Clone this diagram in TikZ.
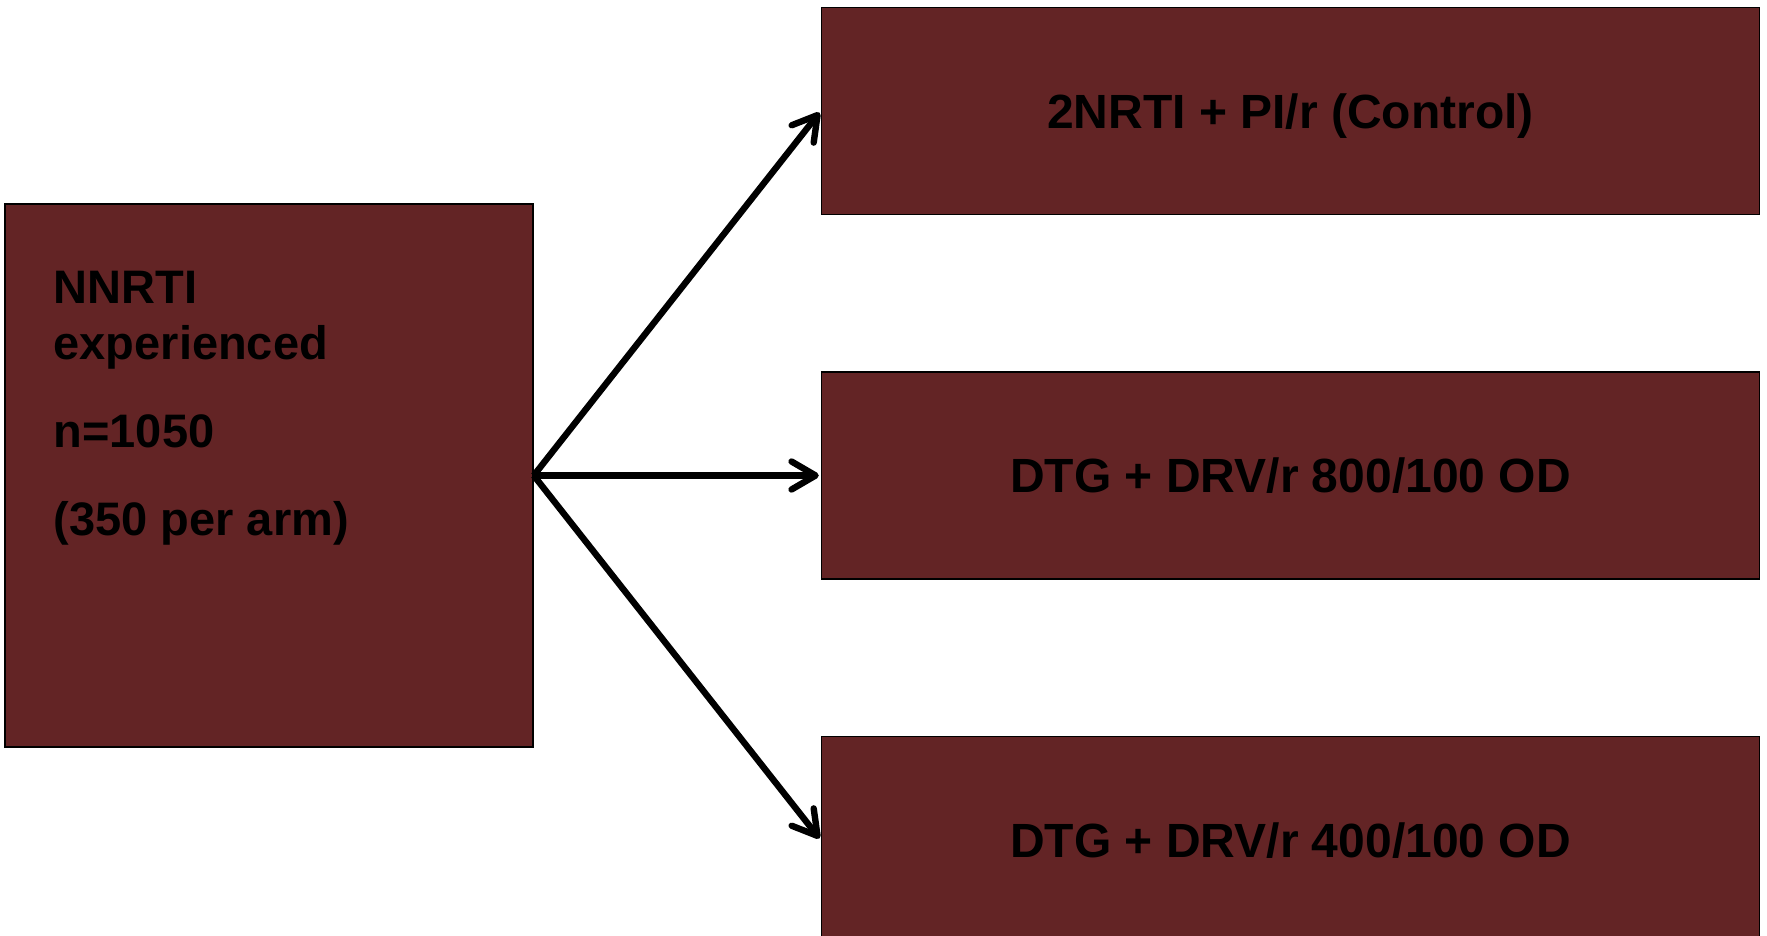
\documentclass[tikz,border=0pt]{standalone}
\usepackage{fontspec}
\setmainfont{Liberation Sans}
\usetikzlibrary{positioning, arrows.meta, calc}
\definecolor{primary}{RGB}{99, 36, 37}

\begin{document}
\begin{tikzpicture}[
                x=0.5pt, y=-0.5pt,
                box/.style={rectangle, draw=black, fill=primary, line width=0.75pt,
                    minimum width=469pt, minimum height=103.5pt, inner sep=0pt,
                    text depth=0pt, font=\fontsize{24}{28}\selectfont\bfseries},
                pool/.style={rectangle, draw=black, fill=primary, line width=0.75pt,
                    minimum width=264pt, minimum height=271.5pt},
                line/.style={-{Straight Barb[length=12pt, width=14pt, round]},
                    line width=3.2pt, color=black, shorten >=1pt}
                ]
                \useasboundingbox (0,0) rectangle (1767,936);
                \node[pool] (arms) at (269,475.5) {};
                \node[anchor=north west, align=left, inner sep=0pt,
                    font=\fontsize{23.5}{28}\selectfont\bfseries] (armstext)
                    at ($(arms.north west)+(49,68)$)
                    {NNRTI\\experienced\\[16pt]n=1050\\[16pt](350 per arm)};
                \node[box, right=143.5pt of arms] (dtg800) {DTG + DRV/r 800/100 OD};
                \node[box, above=78pt of dtg800] (ctrl) {2NRTI + PI/r (Control)};
                \node[box, below=78pt of dtg800] (dtg400) {DTG + DRV/r 400/100 OD};
                \draw[line] (arms.east) -- (ctrl.west);
                \draw[line] (arms.east) -- (dtg800.west);
                \draw[line] (arms.east) -- (dtg400.west);
            \end{tikzpicture}
\end{document}
